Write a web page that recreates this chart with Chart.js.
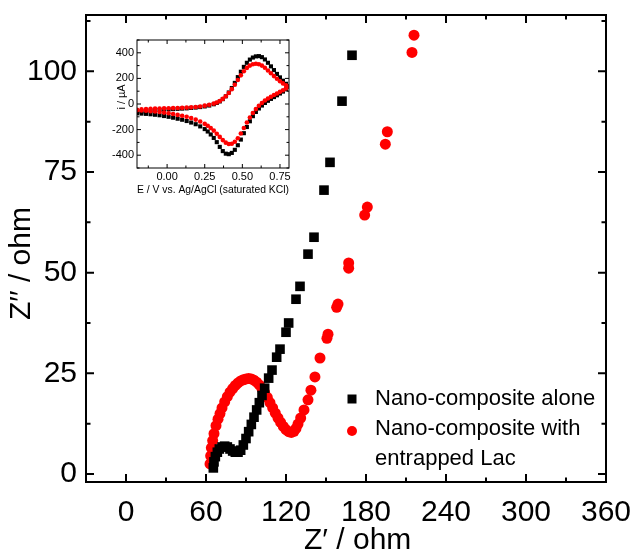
<!DOCTYPE html>
<html>
<head>
<meta charset="utf-8">
<script src="https://cdn.jsdelivr.net/npm/chart.js@4/dist/chart.umd.min.js"></script>
<style>
  body { margin: 0; background: #fff; }
  #wrap { position: relative; width: 634px; height: 556px; }
  #main { position: absolute; left: 0; top: 0; }
  #inset { position: absolute; left: 100px; top: 30px; }
</style>
</head>
<body>
<div id="wrap">
  <canvas id="main" width="634" height="556"></canvas>
  <canvas id="inset" width="200" height="175"></canvas>
</div>
<script>
// Nyquist data, nano-composite alone (black squares)
const aloneZre = [65.5, 66, 67, 68.5, 70, 72, 74, 76, 78, 80, 82, 84, 86, 88, 90, 92, 94, 96, 98, 100, 102, 104,
    107, 109.5, 113, 115.5, 120, 122, 127.5, 130.5, 136.5, 141, 148.5, 153, 162, 169.5];
const aloneZim = [1.5, 3, 4.3, 5.4, 6.2, 6.7, 6.9, 6.7, 6.2, 5.7, 5.4, 5.4, 5.9, 7.2, 8.8, 10.5, 12.3, 14.1, 15.9, 17.7, 19.5, 21.3,
    23.8, 25.8, 29, 31, 35.2, 37.5, 43.4, 46.6, 54.6, 58.8, 70.5, 77.4, 92.6, 104];

// Nyquist data, nano-composite with entrapped Lac (red circles)
const lacZre = [63, 63.5, 64, 65, 66, 67.5, 69, 70.5, 72, 74, 76, 78, 80, 82, 84, 86, 88, 90, 92, 94, 96, 98, 100,
    102, 104, 106, 108, 110, 112, 114, 116, 118, 120, 122, 124, 126, 127.5, 129, 131, 133.5, 136.5, 138.7,
    141.7, 145.5, 150.7, 151.5, 158, 159, 167, 167, 179, 181, 194.5, 196, 214.5, 216];
const lacZim = [2.5, 4.5, 6.5, 8.3, 10, 12, 13.6, 15, 16.4, 17.9, 19.2, 20.3, 21.2, 22, 22.6, 23.1, 23.4, 23.6, 23.7, 23.6, 23.3, 22.8, 22.1,
    21.2, 20.2, 19, 17.7, 16.4, 15.1, 13.9, 12.8, 11.8, 11, 10.5, 10.3, 10.6, 11.3, 12.4, 13.9, 15.9, 18.4, 20.8,
    24.1, 28.8, 33.7, 34.7, 41.4, 42.2, 51.1, 52.4, 64.3, 66.3, 81.9, 85, 104.7, 109];

// inset CV: potential (V) forward then reverse
const cvPotential = [-0.20, -0.17, -0.14, -0.11, -0.08, -0.05, -0.02, 0.01, 0.04, 0.07, 0.10, 0.13, 0.16, 0.19, 0.22,
    0.25, 0.28, 0.31, 0.33, 0.35, 0.37, 0.39, 0.41, 0.43, 0.45, 0.47, 0.49, 0.51, 0.53, 0.55, 0.57, 0.59, 0.61,
    0.63, 0.65, 0.67, 0.69, 0.71, 0.73, 0.75, 0.77, 0.79, 0.81,
    0.79, 0.77, 0.75, 0.73, 0.71, 0.69, 0.67, 0.65, 0.63, 0.61, 0.59, 0.57, 0.55, 0.53, 0.51, 0.49, 0.47, 0.45,
    0.43, 0.41, 0.39, 0.37, 0.35, 0.33, 0.31, 0.29, 0.27, 0.25, 0.22, 0.19, 0.16, 0.13, 0.10, 0.07, 0.04, 0.01,
    -0.02, -0.05, -0.08, -0.11, -0.14, -0.17, -0.20];
const cvAloneCurrent = [-68, -60, -55, -51, -48, -46, -44, -42, -40, -38, -36, -34, -31, -28, -24,
    -19, -12, -2, 8, 20, 38, 60, 90, 125, 165, 210, 252, 290, 322, 347, 363, 372, 374,
    366, 348, 322, 294, 265, 235, 208, 182, 158, 138,
    115, 97, 82, 68, 54, 40, 25, 8, -12, -35, -62, -95, -135, -180, -228, -278, -322, -358,
    -382, -392, -388, -368, -335, -298, -265, -238, -215, -196, -175, -158, -145, -133, -123, -115, -107, -100,
    -94, -88, -84, -80, -77, -75, -73];
const cvLacCurrent = [-45, -42, -40, -38, -36, -35, -34, -33, -32, -31, -30, -28, -26, -23, -19,
    -13, -6, 3, 12, 24, 40, 60, 86, 116, 150, 188, 224, 256, 282, 300, 311, 315, 311,
    300, 283, 262, 240, 218, 197, 178, 161, 146, 135,
    122, 108, 95, 82, 70, 57, 43, 27, 8, -14, -40, -70, -105, -145, -188, -230, -268, -295,
    -310, -312, -302, -282, -257, -232, -208, -188, -170, -155, -137, -122, -110, -100, -92, -85, -78, -72,
    -67, -63, -59, -56, -53, -51, -49];

const legendNames = ['Nano-composite alone', 'Nano-composite with', 'entrapped Lac'];

const sans = "'Liberation Sans', Arial, sans-serif";

function toPoints(xs, ys) {
    return xs.map((v, i) => ({ x: v, y: ys[i] }));
}

// pin the axis box size and drop the label overhang padding
function fixBox(size, horizontal) {
    return s => {
        if (horizontal) s.height = size; else s.width = size;
        s.paddingTop = 0; s.paddingBottom = 0; s.paddingLeft = 0; s.paddingRight = 0;
    };
}

// box around the plot + inward ticks on all four sides
const frame = {
    id: 'frame',
    afterDraw(chart, args, opts) {
        const ctx = chart.ctx;
        const a = chart.chartArea;
        const sx = chart.scales.x;
        const sy = chart.scales.y;
        ctx.save();
        ctx.strokeStyle = '#000';
        ctx.lineWidth = opts.width;
        ctx.strokeRect(a.left, a.top, a.right - a.left, a.bottom - a.top);
        ctx.beginPath();
        sx.ticks.forEach(t => {
            let px = sx.getPixelForValue(t.value);
            let len = t.label !== '' ? opts.major : opts.minor;
            ctx.moveTo(px, a.bottom); ctx.lineTo(px, a.bottom - len);
            ctx.moveTo(px, a.top); ctx.lineTo(px, a.top + len);
        });
        sy.ticks.forEach(t => {
            let py = sy.getPixelForValue(t.value);
            let len = t.label !== '' ? opts.major : opts.minor;
            ctx.moveTo(a.left, py); ctx.lineTo(a.left + len, py);
            ctx.moveTo(a.right, py); ctx.lineTo(a.right - len, py);
        });
        ctx.stroke();
        ctx.restore();
    }
};

// legend sitting inside the plot, lower right
const legendBox = {
    id: 'legendBox',
    afterDraw(chart) {
        const ctx = chart.ctx;
        const a = chart.chartArea;
        let mx = a.left + 266;
        let tx = a.left + 289;
        let y1 = a.top + 384;
        let y2 = a.top + 414;
        let y3 = a.top + 444;
        ctx.save();
        ctx.fillStyle = '#000';
        ctx.fillRect(mx - 4.5, y1 - 4.5, 9, 9);
        ctx.fillStyle = '#ff0000';
        ctx.beginPath();
        ctx.arc(mx, y2 + 2, 5, 0, Math.PI * 2);
        ctx.fill();
        ctx.fillStyle = '#000';
        ctx.font = '22px ' + sans;
        ctx.textBaseline = 'middle';
        ctx.fillText(legendNames[0], tx, y1);
        ctx.fillText(legendNames[1], tx, y2);
        ctx.fillText(legendNames[2], tx, y3);
        ctx.restore();
    }
};

let mainChart = new Chart(document.getElementById('main'), {
    type: 'scatter',
    data: {
        datasets: [
            {
                label: legendNames[0],
                data: toPoints(aloneZre, aloneZim),
                pointStyle: 'rect',
                pointRadius: 6.8,
                backgroundColor: '#000',
                borderColor: '#000',
                borderWidth: 0
            },
            {
                label: legendNames[1] + ' ' + legendNames[2],
                data: toPoints(lacZre, lacZim),
                pointStyle: 'circle',
                pointRadius: 5.5,
                backgroundColor: '#ff0000',
                borderColor: '#ff0000',
                borderWidth: 0
            }
        ]
    },
    options: {
        responsive: false,
        animation: false,
        layout: { padding: { top: 15, right: 28, left: 0, bottom: 0 } },
        plugins: {
            legend: { display: false },
            tooltip: { enabled: false },
            frame: { width: 2, major: 8, minor: 4.5 }
        },
        scales: {
            x: {
                type: 'linear',
                min: -30,
                max: 360,
                grid: { display: false, drawTicks: false },
                border: { display: false },
                ticks: {
                    stepSize: 30,
                    autoSkip: false,
                    includeBounds: false,
                    maxRotation: 0,
                    padding: 13,
                    color: '#000',
                    font: { family: sans, size: 30 },
                    callback: v => (v % 60 === 0 ? v : '')
                },
                title: {
                    display: true,
                    text: '\u2002 Z′ / ohm',
                    color: '#000',
                    font: { family: sans, size: 30, lineHeight: 1 },
                    padding: { top: 0, bottom: 0 }
                },
                afterFit: fixBox(74, true)
            },
            y: {
                type: 'linear',
                min: -2,
                max: 114,
                grid: { display: false, drawTicks: false },
                border: { display: false },
                ticks: {
                    stepSize: 12.5,
                    autoSkip: false,
                    includeBounds: false,
                    padding: 9,
                    color: '#000',
                    font: { family: sans, size: 30 },
                    callback: v => (v % 25 === 0 ? v : '')
                },
                title: {
                    display: true,
                    text: 'Z′′ / ohm\u2003',
                    color: '#000',
                    font: { family: sans, size: 30, lineHeight: 1 },
                    padding: { top: 7, bottom: 0 }
                },
                afterFit: fixBox(86, false)
            }
        }
    },
    plugins: [frame, legendBox]
});

let insetChart = new Chart(document.getElementById('inset'), {
    type: 'scatter',
    data: {
        datasets: [
            {
                label: 'Lac',
                data: toPoints(cvPotential, cvLacCurrent),
                pointStyle: 'circle',
                pointRadius: 2.3,
                backgroundColor: '#ff0000',
                borderWidth: 0
            },
            {
                label: 'alone',
                data: toPoints(cvPotential, cvAloneCurrent),
                pointStyle: 'rect',
                pointRadius: 2.9,
                backgroundColor: '#000',
                borderWidth: 0
            }
        ]
    },
    options: {
        responsive: false,
        animation: false,
        layout: { padding: { top: 10, right: 11, left: 0, bottom: 0 } },
        plugins: {
            legend: { display: false },
            tooltip: { enabled: false },
            frame: { width: 1, major: 4, minor: 2.5 }
        },
        scales: {
            x: {
                type: 'linear',
                min: -0.2,
                max: 0.81,
                grid: { display: false, drawTicks: false },
                border: { display: false },
                ticks: {
                    stepSize: 0.125,
                    autoSkip: false,
                    includeBounds: false,
                    maxRotation: 0,
                    padding: 2,
                    color: '#000',
                    font: { family: sans, size: 11 },
                    callback: v => (Math.abs(v / 0.25 - Math.round(v / 0.25)) < 1e-6 ? v.toFixed(2) : '')
                },
                title: {
                    display: true,
                    text: 'E / V vs. Ag/AgCl (saturated KCl)',
                    color: '#000',
                    font: { family: sans, size: 11, lineHeight: 1.2 },
                    padding: { top: 0, bottom: 8 }
                },
                afterFit: fixBox(37, true)
            },
            y: {
                type: 'linear',
                min: -500,
                max: 500,
                grid: { display: false, drawTicks: false },
                border: { display: false },
                ticks: {
                    stepSize: 100,
                    autoSkip: false,
                    includeBounds: false,
                    padding: 3,
                    color: '#000',
                    font: { family: sans, size: 11 },
                    callback: v => (v % 200 === 0 ? v : '')
                },
                title: {
                    display: true,
                    text: '\u2003 i / µA',
                    color: '#000',
                    font: { family: sans, size: 11, lineHeight: 1.2 },
                    padding: { top: 15, bottom: 0 }
                },
                afterFit: fixBox(37, false)
            }
        }
    },
    plugins: [frame]
});
</script>
</body>
</html>
